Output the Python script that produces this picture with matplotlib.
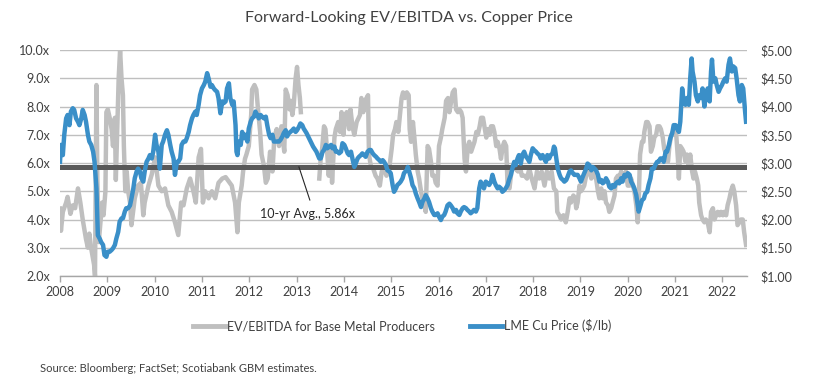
import numpy as np
import matplotlib
matplotlib.use("Agg")
import matplotlib.pyplot as plt
from matplotlib.lines import Line2D

plt.rcParams["font.family"] = ["Lato", "DejaVu Sans"]

GRAY = "#BFBFBF"
BLUE = "#3A8FC8"
DARK = "#595959"
TXT = "#404040"

# ── DATA (decimal year, value) ──────────────────────────────────────────────
ev_years = [
    2008.00, 2008.02, 2008.06, 2008.13, 2008.16, 2008.22, 2008.27, 2008.32, 2008.38, 2008.43,
    2008.48, 2008.55, 2008.59, 2008.62, 2008.66, 2008.72, 2008.74, 2008.77, 2008.79, 2008.82,
    2008.86, 2008.89, 2008.92, 2008.96, 2008.98, 2009.01, 2009.05, 2009.09, 2009.12, 2009.16,
    2009.18, 2009.21, 2009.24, 2009.27, 2009.30, 2009.33, 2009.35, 2009.38, 2009.41, 2009.44,
    2009.48, 2009.51, 2009.58, 2009.65, 2009.71, 2009.76, 2009.79, 2009.87, 2009.94, 2010.01,
    2010.08, 2010.15, 2010.22, 2010.29, 2010.36, 2010.43, 2010.50, 2010.56, 2010.61, 2010.68,
    2010.75, 2010.82, 2010.87, 2010.93, 2010.98, 2011.02, 2011.07, 2011.14, 2011.21, 2011.28,
    2011.35, 2011.43, 2011.50, 2011.63, 2011.70, 2011.75, 2011.78, 2011.84, 2011.87, 2011.91,
    2011.94, 2011.99, 2012.04, 2012.06, 2012.11, 2012.15, 2012.19, 2012.23, 2012.26, 2012.31,
    2012.35, 2012.39, 2012.44, 2012.49, 2012.53, 2012.58, 2012.63, 2012.68, 2012.74, 2012.77,
    2012.81, 2012.85, 2012.88, 2012.91, 2012.94, 2012.98, 2013.01, 2013.04, 2013.07, 2013.09,
    2013.20,
    2013.48, 2013.51, 2013.54, 2013.58, 2013.61, 2013.65, 2013.68, 2013.73, 2013.75, 2013.80,
    2013.83, 2013.88, 2013.92, 2013.95, 2013.99, 2014.02, 2014.06, 2014.11, 2014.14, 2014.18,
    2014.22, 2014.27, 2014.34, 2014.37, 2014.41, 2014.44, 2014.48, 2014.51, 2014.53, 2014.57,
    2014.62, 2014.67, 2014.71, 2014.76, 2014.80, 2014.85, 2014.90, 2014.95, 2015.01, 2015.04,
    2015.08, 2015.11, 2015.15, 2015.18, 2015.22, 2015.25, 2015.29, 2015.33, 2015.37, 2015.39,
    2015.42, 2015.46, 2015.49, 2015.52, 2015.56, 2015.59, 2015.63, 2015.66, 2015.70, 2015.73,
    2015.77, 2015.80, 2015.84, 2015.87, 2015.91, 2015.94, 2015.98, 2016.01, 2016.05, 2016.08,
    2016.13, 2016.16, 2016.20, 2016.23, 2016.27, 2016.30, 2016.34, 2016.37, 2016.41, 2016.44,
    2016.48, 2016.51, 2016.55, 2016.58, 2016.62, 2016.65, 2016.69, 2016.73, 2016.76, 2016.80,
    2016.83, 2016.87, 2016.90, 2016.94, 2016.97, 2017.01, 2017.04, 2017.08, 2017.11, 2017.15,
    2017.18, 2017.22, 2017.25, 2017.29, 2017.32, 2017.36, 2017.39, 2017.43, 2017.46, 2017.50,
    2017.54, 2017.57, 2017.62, 2017.68, 2017.73, 2017.76, 2017.82, 2017.87, 2017.92, 2017.97,
    2018.03, 2018.08, 2018.13, 2018.18, 2018.24, 2018.29, 2018.34, 2018.39, 2018.44, 2018.49,
    2018.51, 2018.55, 2018.59, 2018.64, 2018.69, 2018.73, 2018.77, 2018.80, 2018.85, 2018.89,
    2018.91, 2018.94, 2018.98, 2019.01, 2019.05, 2019.08, 2019.12, 2019.15, 2019.19, 2019.23,
    2019.26, 2019.30, 2019.33, 2019.37, 2019.40, 2019.44, 2019.47, 2019.51, 2019.54, 2019.58,
    2019.61, 2019.65, 2019.68, 2019.72, 2019.75, 2019.79, 2019.82, 2019.86, 2019.89, 2019.93,
    2019.96, 2020.00, 2020.04, 2020.07, 2020.11, 2020.14, 2020.18, 2020.21, 2020.23, 2020.26,
    2020.30, 2020.33, 2020.35, 2020.39, 2020.42, 2020.46, 2020.49, 2020.53, 2020.56, 2020.60,
    2020.63, 2020.67, 2020.70, 2020.74, 2020.77, 2020.81, 2020.85, 2020.88, 2020.92, 2020.95,
    2020.99, 2021.02, 2021.06, 2021.08, 2021.11, 2021.15, 2021.18, 2021.22, 2021.25, 2021.29,
    2021.32, 2021.36, 2021.39, 2021.42, 2021.46, 2021.49, 2021.51, 2021.55, 2021.58, 2021.62,
    2021.65, 2021.69, 2021.73, 2021.76, 2021.80, 2021.83, 2021.87, 2021.90, 2021.94, 2021.97,
    2022.01, 2022.04, 2022.08, 2022.11, 2022.15, 2022.18, 2022.22, 2022.25, 2022.29, 2022.32,
    2022.36, 2022.39, 2022.43, 2022.46, 2022.50,
]
ev_values = [
    4.39, 3.6, 4.27, 4.6, 4.8, 4.2, 4.5, 4.4, 5.1, 4.6,
    4.0, 3.3, 3.0, 3.5, 2.97, 2.4, 2.0, 8.76, 5.4, 3.2,
    4.0, 4.6, 4.15, 5.0, 7.8, 7.9, 7.6, 7.2, 6.6, 7.6,
    5.4, 7.2, 9.0, 10.0, 9.0, 8.4, 6.6, 5.0, 5.7, 5.0,
    4.6, 3.8, 4.75, 5.2, 5.3, 4.15, 4.6, 5.2, 5.6, 6.2,
    5.2, 5.0, 5.1, 4.5, 4.27, 3.9, 3.45, 4.6, 4.5, 5.1,
    5.45, 5.0, 4.6, 6.2, 6.5, 4.6, 5.0, 4.75, 5.0, 4.75,
    5.3, 5.45, 5.5, 5.2, 4.6, 3.55, 4.6, 5.2, 5.7, 6.15,
    6.3, 6.6, 7.7, 8.6, 8.76, 8.6, 7.8, 7.1, 6.3, 5.9,
    5.3, 5.45, 6.4, 5.7, 6.9, 7.2, 6.6, 7.3, 6.4, 8.6,
    8.4, 7.9, 8.2, 7.7, 8.05, 9.0, 9.4, 8.76, 8.3, 7.8,
    np.nan,
    5.45, 6.15, 6.5, 7.3, 7.2, 6.3, 5.55, 6.6, 5.3, 6.9,
    7.2, 7.45, 7.1, 7.8, 7.0, 7.6, 7.8, 7.2, 7.9, 7.3,
    7.0, 7.45, 7.7, 8.3, 7.8, 8.2, 8.3, 8.4, 6.3, 5.9,
    5.8, 5.55, 5.45, 5.2, 5.7, 5.8, 5.55, 5.7, 6.5, 7.0,
    7.2, 7.45, 7.1, 7.6, 8.3, 8.5, 8.3, 8.5, 8.4, 7.2,
    6.75, 7.45, 6.9, 6.3, 5.7, 5.45, 5.0, 4.75, 4.6, 4.27,
    6.6, 6.5, 6.05, 5.55, 5.55, 5.3, 5.2, 6.6, 6.9, 7.2,
    7.6, 8.2, 8.3, 7.8, 8.2, 8.5, 8.6, 7.9, 7.8, 7.9,
    7.8, 7.6, 6.15, 5.7, 6.6, 6.75, 6.4, 6.6, 6.75, 7.1,
    7.0, 7.3, 7.6, 7.6, 7.3, 6.9, 7.2, 7.0, 7.3, 7.3,
    7.1, 6.6, 6.75, 6.5, 6.15, 6.6, 6.75, 6.6, 5.2, 5.1,
    5.7, 5.9, 5.8, 5.7, 5.8, 5.55, 5.55, 5.45, 5.8, 5.45,
    5.1, 5.7, 5.45, 5.7, 5.2, 5.7, 5.45, 5.7, 5.1, 5.0,
    4.27, 4.15, 4.0, 4.15, 3.9, 4.27, 4.75, 4.6, 4.85, 4.75,
    4.4, 4.6, 5.2, 5.0, 5.1, 5.2, 5.55, 5.7, 5.7, 5.45,
    5.55, 5.8, 5.45, 5.0, 4.75, 5.1, 4.75, 5.0, 4.6, 4.5,
    4.27, 4.4, 4.6, 4.85, 5.45, 5.55, 5.45, 5.7, 5.45, 5.55,
    5.7, 5.2, 5.2, 5.45, 5.2, 5.0, 4.5, 3.9, 4.6, 6.3,
    6.75, 6.75, 7.1, 7.45, 7.45, 7.3, 6.4, 6.6, 6.9, 7.0,
    7.3, 7.3, 7.2, 6.9, 6.5, 6.3, 6.05, 6.6, 7.0, 7.1,
    7.0, 7.1, 6.15, 5.45, 6.6, 6.5, 6.4, 6.05, 6.3, 5.9,
    6.3, 5.7, 5.45, 5.7, 5.45, 5.2, 4.6, 4.15, 4.0, 3.9,
    4.0, 3.9, 3.55, 4.27, 4.4, 4.0, 4.15, 4.27, 4.15, 4.27,
    4.15, 4.27, 4.15, 4.5, 4.75, 5.0, 5.2, 5.0, 4.5, 3.8,
    3.9, 4.0, 4.0, 3.55, 3.1,
]

cu_years = [
    2008.00, 2008.02, 2008.06, 2008.09, 2008.13, 2008.16, 2008.20, 2008.23, 2008.27, 2008.30,
    2008.34, 2008.38, 2008.41, 2008.45, 2008.48, 2008.52, 2008.55, 2008.59, 2008.62, 2008.66,
    2008.70, 2008.73, 2008.77, 2008.80, 2008.84, 2008.87, 2008.91, 2008.94, 2008.98, 2009.01,
    2009.05, 2009.09, 2009.12, 2009.16, 2009.19, 2009.23, 2009.26, 2009.30, 2009.33, 2009.37,
    2009.40, 2009.44, 2009.48, 2009.51, 2009.55, 2009.58, 2009.62, 2009.65, 2009.69, 2009.72,
    2009.76, 2009.79, 2009.83, 2009.87, 2009.90, 2009.94, 2009.97, 2010.01, 2010.04, 2010.08,
    2010.11, 2010.15, 2010.18, 2010.22, 2010.26, 2010.29, 2010.33, 2010.36, 2010.40, 2010.43,
    2010.47, 2010.50, 2010.54, 2010.57, 2010.61, 2010.65, 2010.68, 2010.72, 2010.75, 2010.79,
    2010.82, 2010.86, 2010.89, 2010.93, 2010.96, 2011.00, 2011.04, 2011.07, 2011.11, 2011.14,
    2011.18, 2011.21, 2011.25, 2011.28, 2011.32, 2011.35, 2011.39, 2011.43, 2011.46, 2011.50,
    2011.53, 2011.57, 2011.60, 2011.64, 2011.67, 2011.71, 2011.73, 2011.75, 2011.78, 2011.82,
    2011.85, 2011.89, 2011.92, 2011.96, 2011.99, 2012.03, 2012.06, 2012.10, 2012.13, 2012.17,
    2012.20, 2012.24, 2012.27, 2012.31, 2012.35, 2012.38, 2012.42, 2012.45, 2012.49, 2012.52,
    2012.56, 2012.59, 2012.63, 2012.66, 2012.70, 2012.73, 2012.77, 2012.80, 2012.84, 2012.87,
    2012.91, 2012.94, 2012.98, 2013.01, 2013.05, 2013.08, 2013.12, 2013.15, 2013.21, 2013.28,
    2013.35, 2013.42, 2013.48, 2013.51, 2013.55, 2013.58, 2013.62, 2013.65, 2013.69, 2013.73,
    2013.76, 2013.80, 2013.83, 2013.87, 2013.90, 2013.94, 2013.97, 2014.01, 2014.04, 2014.08,
    2014.11, 2014.15, 2014.18, 2014.22, 2014.25, 2014.29, 2014.32, 2014.36, 2014.39, 2014.43,
    2014.46, 2014.50, 2014.54, 2014.57, 2014.61, 2014.64, 2014.68, 2014.71, 2014.75, 2014.78,
    2014.82, 2014.85, 2014.89, 2014.92, 2014.96, 2014.99, 2015.03, 2015.06, 2015.10, 2015.13,
    2015.17, 2015.20, 2015.24, 2015.27, 2015.30, 2015.33, 2015.35, 2015.38, 2015.42, 2015.45,
    2015.49, 2015.52, 2015.56, 2015.59, 2015.63, 2015.66, 2015.70, 2015.73, 2015.77, 2015.80,
    2015.84, 2015.87, 2015.91, 2015.94, 2015.98, 2016.01, 2016.05, 2016.08, 2016.12, 2016.15,
    2016.19, 2016.23, 2016.26, 2016.30, 2016.33, 2016.37, 2016.40, 2016.44, 2016.47, 2016.51,
    2016.54, 2016.58, 2016.61, 2016.65, 2016.68, 2016.72, 2016.75, 2016.79, 2016.82, 2016.86,
    2016.89, 2016.93, 2016.96, 2017.00, 2017.04, 2017.07, 2017.11, 2017.14, 2017.18, 2017.21,
    2017.25, 2017.28, 2017.32, 2017.35, 2017.39, 2017.42, 2017.46, 2017.49, 2017.53, 2017.56,
    2017.60, 2017.63, 2017.67, 2017.70, 2017.74, 2017.77, 2017.81, 2017.85, 2017.88, 2017.92,
    2017.95, 2017.99, 2018.02, 2018.06, 2018.09, 2018.13, 2018.16, 2018.20, 2018.23, 2018.27,
    2018.30, 2018.34, 2018.37, 2018.41, 2018.44, 2018.46, 2018.49, 2018.52, 2018.56, 2018.59,
    2018.63, 2018.66, 2018.70, 2018.73, 2018.77, 2018.80, 2018.84, 2018.87, 2018.94, 2018.98,
    2019.01, 2019.05, 2019.08, 2019.12, 2019.15, 2019.19, 2019.23, 2019.26, 2019.30, 2019.33,
    2019.37, 2019.40, 2019.44, 2019.47, 2019.51, 2019.54, 2019.58, 2019.61, 2019.65, 2019.68,
    2019.72, 2019.75, 2019.79, 2019.82, 2019.86, 2019.89, 2019.93, 2019.96, 2020.00, 2020.04,
    2020.07, 2020.11, 2020.14, 2020.18, 2020.21, 2020.23, 2020.27, 2020.30, 2020.34, 2020.37,
    2020.41, 2020.44, 2020.48, 2020.51, 2020.55, 2020.58, 2020.62, 2020.65, 2020.69, 2020.73,
    2020.76, 2020.80, 2020.83, 2020.87, 2020.90, 2020.94, 2020.97, 2021.01, 2021.04, 2021.08,
    2021.11, 2021.13, 2021.15, 2021.18, 2021.22, 2021.25, 2021.29, 2021.32, 2021.35, 2021.37,
    2021.41, 2021.44, 2021.48, 2021.51, 2021.55, 2021.58, 2021.62, 2021.65, 2021.69, 2021.73,
    2021.76, 2021.78, 2021.81, 2021.85, 2021.88, 2021.92, 2021.95, 2021.99, 2022.02, 2022.06,
    2022.09, 2022.13, 2022.16, 2022.20, 2022.23, 2022.27, 2022.30, 2022.34, 2022.37, 2022.41,
    2022.44, 2022.48, 2022.50,
]
cu_values = [
    3.02, 3.32, 3.14, 3.50, 3.79, 3.85, 3.67, 3.91, 3.97, 3.94,
    3.79, 3.73, 3.67, 3.79, 3.94, 3.85, 3.73, 3.50, 3.38, 3.32,
    3.20, 3.02, 2.55, 1.72, 1.66, 1.60, 1.55, 1.37, 1.34, 1.43,
    1.43, 1.46, 1.49, 1.55, 1.66, 1.78, 1.96, 2.02, 2.02, 2.14,
    2.20, 2.20, 2.25, 2.37, 2.55, 2.73, 2.85, 2.90, 2.85, 2.73,
    2.67, 2.85, 3.02, 3.08, 3.14, 3.08, 3.20, 3.50, 3.32, 3.20,
    2.90, 3.32, 3.38, 3.50, 3.58, 3.50, 3.32, 3.20, 3.08, 2.79,
    3.02, 3.02, 3.08, 3.32, 3.38, 3.38, 3.44, 3.55, 3.67, 3.79,
    3.85, 3.91, 3.85, 4.03, 4.20, 4.32, 4.38, 4.44, 4.59, 4.50,
    4.35, 4.38, 4.32, 4.29, 4.26, 4.15, 3.88, 4.09, 4.06, 4.09,
    4.32, 4.41, 4.15, 4.03, 4.09, 3.67, 3.20, 3.14, 3.38, 3.32,
    3.55, 3.44, 3.50, 3.38, 3.61, 3.73, 3.79, 3.82, 3.91, 3.85,
    3.79, 3.85, 3.82, 3.79, 3.82, 3.67, 3.50, 3.44, 3.50, 3.38,
    3.38, 3.38, 3.38, 3.41, 3.47, 3.53, 3.58, 3.47, 3.53, 3.55,
    3.58, 3.61, 3.55, 3.58, 3.64, 3.70, 3.67, 3.61, 3.53, 3.41,
    3.29, 3.20, 3.08, 3.08, 3.20, 3.23, 3.32, 3.26, 3.29, 3.32,
    3.26, 3.29, 3.20, 3.20, 3.17, 3.20, 3.35, 3.32, 3.26, 3.17,
    3.14, 3.20, 3.08, 2.93, 2.99, 3.08, 3.11, 3.14, 3.17, 3.14,
    3.11, 3.20, 3.23, 3.23, 3.17, 3.14, 3.11, 3.08, 3.05, 3.02,
    3.05, 3.02, 2.96, 2.87, 2.85, 2.82, 2.61, 2.49, 2.55, 2.61,
    2.64, 2.67, 2.73, 2.82, 2.85, 2.87, 2.93, 2.85, 2.73, 2.61,
    2.55, 2.46, 2.37, 2.31, 2.22, 2.31, 2.37, 2.43, 2.37, 2.31,
    2.20, 2.14, 2.08, 2.08, 2.11, 2.05, 1.99, 2.05, 2.08, 2.14,
    2.25, 2.28, 2.25, 2.20, 2.14, 2.17, 2.11, 2.08, 2.14, 2.20,
    2.22, 2.20, 2.17, 2.14, 2.11, 2.14, 2.17, 2.14, 2.20, 2.55,
    2.67, 2.61, 2.55, 2.67, 2.64, 2.61, 2.67, 2.79, 2.67, 2.61,
    2.55, 2.58, 2.55, 2.49, 2.52, 2.55, 2.61, 2.70, 2.79, 2.90,
    3.02, 2.96, 3.08, 3.14, 2.99, 3.14, 3.20, 3.11, 3.08, 3.02,
    3.14, 3.26, 3.23, 3.20, 3.17, 3.14, 3.08, 3.14, 3.08, 3.02,
    3.14, 3.08, 3.14, 3.17, 3.29, 3.26, 3.08, 2.90, 2.79, 2.73,
    2.70, 2.67, 2.70, 2.76, 2.85, 2.87, 2.82, 2.79, 2.79, 2.73,
    2.67, 2.76, 2.82, 2.90, 2.99, 2.96, 2.87, 2.93, 2.90, 2.87,
    2.79, 2.67, 2.70, 2.64, 2.67, 2.73, 2.67, 2.58, 2.55, 2.61,
    2.58, 2.64, 2.67, 2.64, 2.73, 2.67, 2.79, 2.76, 2.82, 2.79,
    2.67, 2.61, 2.55, 2.43, 2.25, 2.14, 2.25, 2.34, 2.37, 2.46,
    2.49, 2.61, 2.73, 2.90, 2.90, 2.96, 3.02, 3.02, 3.08, 3.08,
    3.02, 3.20, 3.20, 3.32, 3.44, 3.53, 3.67, 3.67, 3.61, 3.55,
    3.73, 4.03, 4.32, 4.09, 4.03, 4.15, 4.03, 4.50, 4.85, 4.62,
    4.44, 4.20, 4.09, 4.20, 4.15, 4.32, 4.00, 4.20, 4.32, 4.09,
    4.62, 4.83, 4.44, 4.50, 4.38, 4.26, 4.32, 4.38, 4.44, 4.50,
    4.44, 4.74, 4.85, 4.62, 4.71, 4.68, 4.50, 4.20, 4.09, 4.38,
    4.32, 3.91, 3.73,
]

avg_10yr = 5.86
left_ticks = [2.0, 3.0, 4.0, 5.0, 6.0, 7.0, 8.0, 9.0, 10.0]
right_ticks = [1.0, 1.5, 2.0, 2.5, 3.0, 3.5, 4.0, 4.5, 5.0]
year_ticks = list(range(2008, 2023))

# ── FIGURE ───────────────────────────────────────────────────────────────────
fig = plt.figure(figsize=(8.15, 3.91), dpi=100)
ax = fig.add_axes([60 / 815, 1 - 276 / 391, 687 / 815, 226 / 391])
ax2 = ax.twinx()

ax.plot(ev_years, ev_values, color=GRAY, linewidth=3.2, zorder=2,
        solid_joinstyle="round")
ax.axhline(avg_10yr, color=DARK, linewidth=3.6, zorder=3)
ax2.plot(cu_years, cu_values, color=BLUE, linewidth=3.2, zorder=3,
         solid_joinstyle="round")

ax.set_xlim(2008, 2022.52)
ax.set_ylim(2, 10)
ax2.set_ylim(1, 5)
ax.set_yticks(left_ticks)
ax.set_yticklabels([f"{v:.1f}x" for v in left_ticks])
ax2.set_yticks(right_ticks)
ax2.set_yticklabels([f"${v:.2f}" for v in right_ticks])
ax.set_xticks(year_ticks)
ax.set_xticklabels([str(y) for y in year_ticks])

ax.grid(axis="y", color=GRAY, linewidth=1.0, zorder=0)
ax.set_axisbelow(True)
for s in ["top", "left", "right"]:
    ax.spines[s].set_visible(False)
    ax2.spines[s].set_visible(False)
ax2.spines["bottom"].set_visible(False)
ax.spines["bottom"].set_color("#A6A6A6")
ax.spines["bottom"].set_linewidth(1.0)

ax.tick_params(axis="y", length=0, pad=7, labelsize=9, labelcolor=TXT)
ax2.tick_params(axis="y", length=0, pad=10, labelsize=9, labelcolor=TXT)
ax.tick_params(axis="x", length=4, width=1, color="#A6A6A6", pad=3,
               labelsize=9, labelcolor=TXT)

# leader line + label for the 10-yr average
ax.plot([2013.05, 2013.28], [avg_10yr, 4.69], color="#262626", linewidth=0.8, zorder=4)
ax.text(2013.24, 4.19, "10-yr Avg., 5.86x", ha="center", va="center",
        fontsize=9, color="#262626", zorder=4)

fig.text(0.502, 0.955, "Forward-Looking EV/EBITDA vs. Copper Price",
         ha="center", va="center", fontsize=11.5, color=TXT)

handles = [Line2D([], [], color=GRAY, linewidth=3.5),
           Line2D([], [], color=BLUE, linewidth=3.5)]
fig.legend(handles, ["EV/EBITDA for Base Metal Producers", "LME Cu Price ($/lb)"],
           loc="center", bbox_to_anchor=(402 / 815, 1 - 326 / 391), ncol=2,
           frameon=False, fontsize=9, handlelength=2.6, handletextpad=0.1,
           columnspacing=2.8, labelcolor=TXT)

fig.text(40 / 815, 1 - 369 / 391, "Source: Bloomberg; FactSet; Scotiabank GBM estimates.",
         ha="left", va="center", fontsize=8, color=TXT)

fig.savefig("out.png", dpi=100)
